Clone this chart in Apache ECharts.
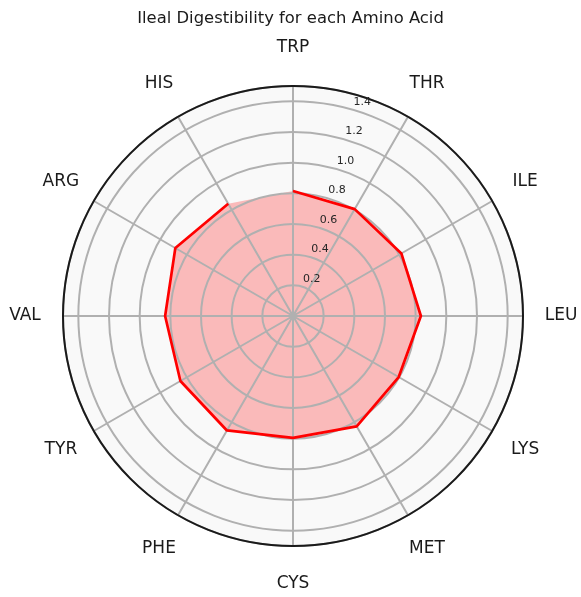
<!DOCTYPE html>
<html>
<head>
<meta charset="utf-8">
<script src="https://cdn.jsdelivr.net/npm/echarts@6/dist/echarts.min.js"></script>
<style>
  html, body { margin: 0; padding: 0; background: #fff; }
  #chart { width: 581px; height: 597px; }
</style>
</head>
<body>
<div id="chart"></div>
<script>
var aminoAcids = ['TRP', 'THR', 'ILE', 'LEU', 'LYS', 'MET', 'CYS', 'PHE', 'TYR', 'VAL', 'ARG', 'HIS'];
var digestibility = [0.815, 0.805, 0.816, 0.834, 0.796, 0.831, 0.795, 0.862, 0.848, 0.834, 0.886, 0.845];
var radialTicks = ['0.2', '0.4', '0.6', '0.8', '1.0', '1.2', '1.4'];

var chart = echarts.init(document.getElementById('chart'));

// one spoke per amino acid, evenly spaced round the circle (angle axis in degrees)
var step = 360 / aminoAcids.length;
var linePoints = [];
var labelPoints = [];
for (var i in aminoAcids) {
  linePoints.push([digestibility[i], i * step]);
  labelPoints.push({ name: aminoAcids[i], value: [1, i * step] });
}
// the fill is closed back to the first point, the red line is not
var fillPoints = linePoints.concat([[digestibility[0], 360]]);

var font = 'DejaVu Sans';
var cx = 293, cy = 316, R = 230;

var option = {
  backgroundColor: '#fff',
  animation: false,
  title: {
    text: 'Ileal Digestibility for each Amino Acid',
    left: 'center',
    top: 6,
    textStyle: { fontFamily: font, fontSize: 16.4, fontWeight: 'normal', color: '#1a1a1a' }
  },
  polar: [
    { center: [cx, cy], radius: R },        // main plot
    { center: [cx, cy], radius: R },        // background + radial tick labels
    { center: [cx, cy], radius: R + 38 }    // category labels
  ],
  angleAxis: [
    {
      polarIndex: 0,
      type: 'value',
      min: 0,
      max: 360,
      interval: step,
      startAngle: 90,
      clockwise: true,
      axisLine: { show: true, lineStyle: { color: '#1a1a1a', width: 2 } },
      axisTick: { show: false },
      axisLabel: { show: false },
      splitLine: { show: true, lineStyle: { color: '#b0b0b0', width: 2 } },
      z: 2
    },
    {
      polarIndex: 1,
      type: 'value',
      min: 0,
      max: 360,
      interval: 90,
      startAngle: 74,
      axisLine: { show: false },
      axisTick: { show: false },
      axisLabel: { show: false },
      splitLine: { show: false },
      splitArea: { show: true, areaStyle: { color: ['#f9f9f9'] } },
      z: 0
    },
    {
      polarIndex: 2,
      type: 'value',
      min: 0,
      max: 360,
      startAngle: 90,
      clockwise: true,
      show: false
    }
  ],
  radiusAxis: [
    {
      polarIndex: 0,
      type: 'value',
      min: 0,
      max: 1.5,
      interval: 0.2,
      axisLine: { show: false },
      axisTick: { show: false },
      axisLabel: { show: false },
      splitLine: { show: true, lineStyle: { color: '#b0b0b0', width: 2 } },
      z: 2
    },
    {
      polarIndex: 1,
      type: 'value',
      min: 0,
      max: 1.5,
      interval: 0.2,
      axisLine: { show: false },
      axisTick: { show: false },
      splitLine: { show: false },
      axisLabel: {
        show: true,
        margin: -10.6,
        align: 'center',
        verticalAlign: 'bottom',
        padding: [0, 0, 5, 0],
        fontFamily: font,
        fontSize: 11,
        color: '#262626',
        formatter: function (v) {
          var s = v.toFixed(1);
          return radialTicks.indexOf(s) >= 0 ? s : '';
        }
      },
      z: 10
    },
    {
      polarIndex: 2,
      type: 'value',
      min: 0,
      max: 1,
      show: false
    }
  ],
  series: [
    {
      type: 'line',
      coordinateSystem: 'polar',
      polarIndex: 0,
      data: fillPoints,
      symbol: 'none',
      lineStyle: { width: 0, opacity: 0 },
      areaStyle: { color: 'rgba(255, 0, 0, 0.25)', opacity: 1 },
      silent: true,
      z: 1
    },
    {
      type: 'line',
      coordinateSystem: 'polar',
      polarIndex: 0,
      data: linePoints,
      symbol: 'none',
      lineStyle: { color: '#ff0000', width: 2.7 },
      silent: true,
      z: 3
    },
    {
      // amino acid names, centred on the label ring
      type: 'scatter',
      coordinateSystem: 'polar',
      polarIndex: 2,
      data: labelPoints,
      symbolSize: 0,
      silent: true,
      itemStyle: { opacity: 1 },
      label: {
        show: true,
        position: 'inside',
        formatter: '{b}',
        fontFamily: font,
        fontSize: 17,
        color: '#1a1a1a',
        opacity: 1
      },
      z: 4
    }
  ]
};

chart.setOption(option);
</script>
</body>
</html>
